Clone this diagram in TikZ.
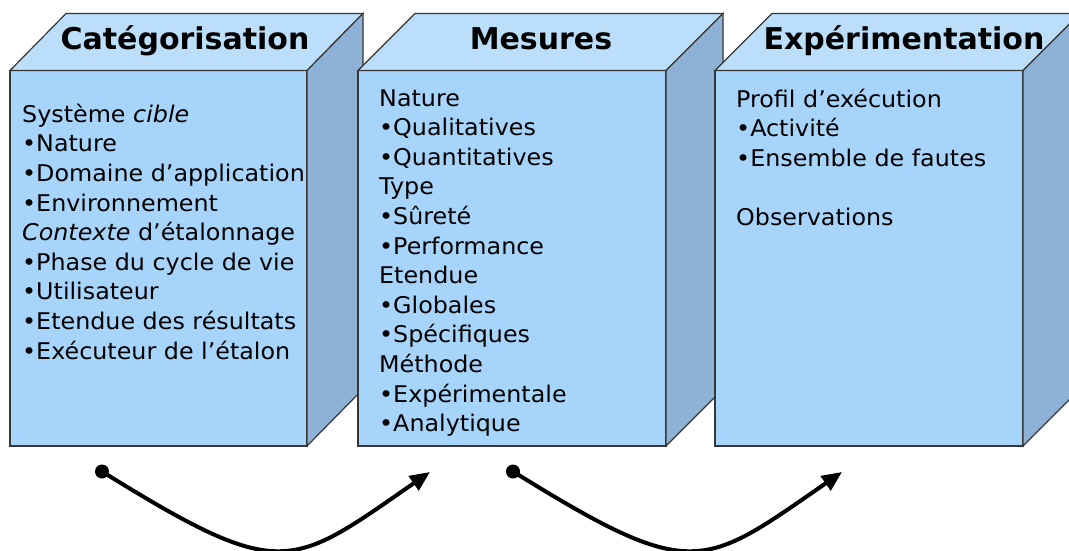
\documentclass[tikz,border=0pt]{standalone}
\usepackage{fontspec}
\setmainfont{DejaVu Sans}
\newfontfamily\bodyfont{DejaVu Sans}[FakeStretch=1.035]
\usetikzlibrary{arrows.meta}
\definecolor{frontc}{RGB}{166,212,250}
\definecolor{topc}{RGB}{187,222,251}
\definecolor{sidec}{RGB}{142,178,214}
\definecolor{edgec}{RGB}{55,55,55}
\begin{document}
\begin{tikzpicture}[x=1pt,y=-1pt,
  face/.style={draw=edgec,line width=1.2pt,line join=miter},
  title/.style={anchor=base,inner sep=0pt,font=\bfseries\fontsize{30}{36}\selectfont},
  body/.style={anchor=base west,align=left,inner sep=0pt,font=\bodyfont\fontsize{23}{29.6}\selectfont},
  link/.style={line width=4pt,-{Triangle[length=20pt,width=17pt]}},
  dot/.style={fill=black}]
\useasboundingbox (0,0) rectangle (1069,551);
\clip (0,0) rectangle (1069,551);
% box 1
\fill[frontc,face] (10,70.5) rectangle (307,446);
\fill[topc,face] (10,70.5) -- (66,13.5) -- (363,13.5) -- (307,70.5) -- cycle;
\fill[sidec,face] (307,70.5) -- (363,13.5) -- (363,389) -- (307,446) -- cycle;
% box 2
\fill[frontc,face] (358,70.5) rectangle (666,446);
\fill[topc,face] (358,70.5) -- (415,13.5) -- (723,13.5) -- (666,70.5) -- cycle;
\fill[sidec,face] (666,70.5) -- (723,13.5) -- (723,389) -- (666,446) -- cycle;
% box 3
\fill[frontc,face] (715,70.5) rectangle (1023,446);
\fill[topc,face] (715,70.5) -- (772,13.5) -- (1080,13.5) -- (1023,70.5) -- cycle;
\fill[sidec,face] (1023,70.5) -- (1080,13.5) -- (1080,389) -- (1023,446) -- cycle;
% titles
\node[title] (h1) at (185,50) {Catégorisation};
\node[title] (h2) at (541,50) {Mesures};
\node[title] (h3) at (904,50) {Expérimentation};
% bodies (anchor = baseline of the last line)
\node[body] (b1) at (22,359.1) {Système \textit{cible}\\•Nature\\•Domaine d’application\\•Environnement\\\textit{Contexte} d’étalonnage\\•Phase du cycle de vie\\•Utilisateur\\•Etendue des résultats\\•Exécuteur de l’étalon};
\node[body] (b2) at (379,431.6) {Nature\\•Qualitatives\\•Quantitatives\\Type\\•Sûreté\\•Performance\\Etendue\\•Globales\\•Spécifiques\\Méthode\\•Expérimentale\\•Analytique};
\node[body] (b3) at (736,225.4) {Profil d’exécution\\•Activité\\•Ensemble de fautes\\\mbox{}\\Observations};
% connectors
\coordinate (s1) at (102,471.5);
\coordinate (e1) at (430,472);
\coordinate (s2) at (513,471.5);
\coordinate (e2) at (842,472);
\fill[dot] (s1) circle (7);
\fill[dot] (s2) circle (7);
\draw[link] (s1) .. controls (282,583) and (290,569) .. (e1);
\draw[link] (s2) .. controls (693,583) and (702,569) .. (e2);
\end{tikzpicture}
\end{document}
